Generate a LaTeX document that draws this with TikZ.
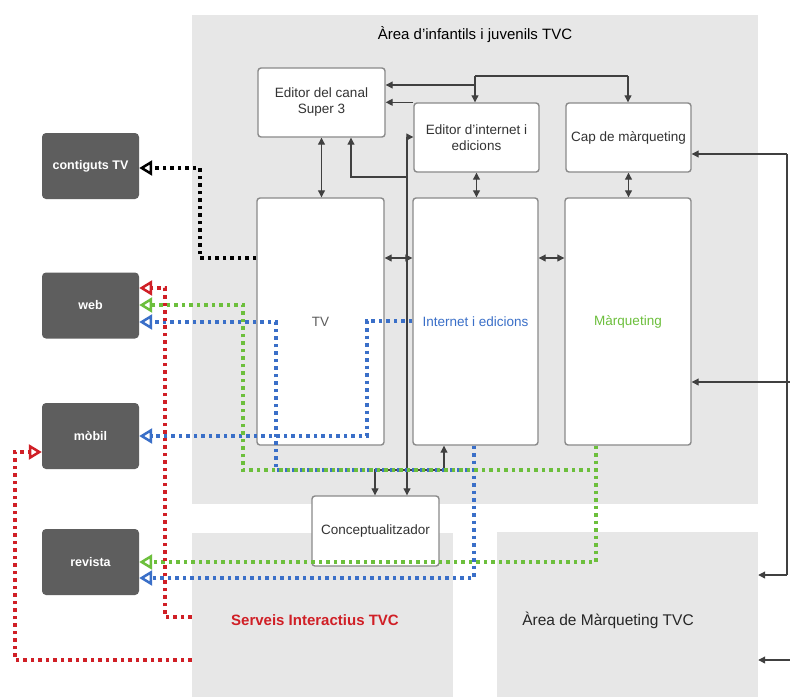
\documentclass[tikz,border=0pt]{standalone}
\usepackage{fontspec}
\setmainfont{Liberation Sans}
\usetikzlibrary{arrows.meta}
\definecolor{areagray}{HTML}{E7E7E7}
\definecolor{darkbox}{HTML}{5E5E5E}
\definecolor{boxline}{HTML}{8A8A8A}
\definecolor{linecol}{HTML}{404040}
\definecolor{txtgray}{HTML}{333333}
\definecolor{dred}{HTML}{D01F26}
\definecolor{dgreen}{HTML}{6CBF3C}
\definecolor{dblue}{HTML}{3A6FC8}
\tikzset{
  area/.style={fill=areagray, draw=none, inner sep=0pt},
  wbox/.style={fill=white, draw=boxline, line width=1.4pt, rounded corners=3pt, inner sep=2pt,
    align=center, text=txtgray, font=\fontsize{13.5}{16}\selectfont},
  dbox/.style={fill=darkbox, draw=none, rounded corners=4pt, inner sep=0pt,
    minimum width=97pt, minimum height=66pt, text=white, font=\fontsize{12.5}{15}\selectfont\bfseries},
  sarrow/.style={draw=linecol, line width=1.1pt, -{Triangle[length=7pt,width=7pt]}},
  darr/.style={draw=linecol, line width=1.1pt, {Triangle[length=7pt,width=7pt]}-{Triangle[length=7pt,width=7pt]}},
  sline/.style={draw=linecol, line width=1.1pt},
  dotline/.style={line width=3.5pt, dash pattern=on 3.5pt off 4pt,
    -{Triangle[length=13pt,width=15pt,fill=white,line width=2.5pt]}}
}
\begin{document}
\begin{tikzpicture}[x=1pt,y=-1pt]
\useasboundingbox (0,0) rectangle (790,697);
\fill[white] (0,0) rectangle (790,697);

% areas
\node[area, minimum width=566pt, minimum height=489pt] (areaI) at (475,259.5) {};
\node[area, minimum width=261pt, minimum height=164pt] (serv) at (322.5,615) {};
\node[area, minimum width=261pt, minimum height=165pt] (areaM) at (627.5,614.5) {};

\node[font=\fontsize{15}{18}\selectfont, text=black] (titleI) at (475,35) {Àrea d'infantils i juvenils TVC};
\node[font=\fontsize{15}{18}\selectfont\bfseries, text=dred] (titleS) at (315,620) {Serveis Interactius TVC};
\node[font=\fontsize{15.5}{18}\selectfont, text=black!85] (titleM) at (608,620) {Àrea de Màrqueting TVC};

% white boxes
\node[wbox, minimum width=127pt, minimum height=69pt] (super3) at (321.5,102.5) {Editor del canal\\Super 3};
\node[wbox, minimum width=125pt, minimum height=69pt] (edint) at (476.5,137.5) {Editor d'internet i\\edicions};
\node[wbox, minimum width=125pt, minimum height=69pt] (cap) at (628.5,137.5) {Cap de màrqueting};
\node[wbox, minimum width=127pt, minimum height=247pt] (tv) at (320.5,321.5) {};
\node[wbox, minimum width=125pt, minimum height=247pt] (internet) at (475.5,321.5) {};
\node[wbox, minimum width=126pt, minimum height=247pt] (mkt) at (628,321.5) {};
\node[wbox, minimum width=127pt, minimum height=70pt] (concept) at (375.5,531) {Conceptualitzador};

\node[font=\fontsize{13.5}{16}\selectfont, text=txtgray!80] (tvlab) at (tv.center) {TV};
\node[font=\fontsize{13.5}{16}\selectfont, text=dblue] (intlab) at (internet.center) {Internet i edicions};
\node[font=\fontsize{13.5}{16}\selectfont, text=dgreen] (mktlab) at (mkt.center) {Màrqueting};

% dark boxes
\node[dbox] (contig) at (90.5,166) {contiguts TV};
\node[dbox] (web) at (90.5,305.5) {web};
\node[dbox] (mobil) at (90.5,436) {mòbil};
\node[dbox] (revista) at (90.5,562) {revista};

% solid connectors
\draw[darr] (super3.south) -- (super3.south |- tv.north);
\draw[darr] (tv.east |- 0,258) -- (internet.west |- 0,258);
\draw[darr] (internet.east |- 0,258) -- (mkt.west |- 0,258);
\draw[darr] (edint.south) -- (edint.south |- internet.north);
\draw[darr] (cap.south) -- (cap.south |- mkt.north);

\coordinate (tj) at (475,76);
\coordinate (tk) at (628,76);
\coordinate (tm) at (475,85);
\draw[sline] (tj) -- (tk);
\draw[sarrow] (tk) -- (tk |- cap.north);
\draw[sarrow] (tj) -- (tj |- edint.north);
\draw[sarrow] (tm) -- (tm -| super3.east);
\draw[sarrow] (edint.north west) -- (edint.north west -| super3.east);

\coordinate (s1) at (351,177);
\coordinate (s2) at (407,177);
\coordinate (vtop) at (407,137);
\draw[sarrow] (s2) -- (s1) -- (s1 |- super3.south);
\draw[sarrow] (vtop) -- (vtop -| edint.west);
\draw[sarrow] (vtop) -- (vtop |- concept.north);

\coordinate (c1) at (444,470);
\coordinate (c2) at (375,470);
\draw[darr] (c1 |- internet.south) -- (c1) -- (c2) -- (c2 |- concept.north);

\coordinate (rtop) at (787,154);
\coordinate (rbot) at (787,575);
\coordinate (redge1) at (790,382);
\coordinate (redge2) at (790,660);
\draw[sarrow] (rtop) -- (rtop -| cap.east);
\draw[sline] (rtop) -- (rbot);
\draw[sarrow] (rbot) -- (rbot -| areaM.east);
\draw[sarrow] (redge1) -- (redge1 -| mkt.east);
\draw[sarrow] (redge2) -- (redge2 -| areaM.east);

% dotted connectors
\draw[dotline, black] (tv.west |- 0,258) -- (200,258) -- (200,168) -- (contig.east |- 0,168);

\coordinate (bi) at (internet.south -| 474,0);
\draw[dotline, dblue] (bi) -- (474,470) -- (276,470) -- (276,322) -- (web.east |- 0,322);
\draw[dotline, dblue] (internet.west |- 0,321) -- (367,321) -- (367,436) -- (mobil.east |- 0,436);
\draw[dotline, dblue] (bi) -- (474,578) -- (revista.east |- 0,578);

\coordinate (gm) at (mkt.south -| 596,0);
\draw[dotline, dgreen] (gm) -- (596,470) -- (243,470) -- (243,305) -- (web.east |- 0,305);
\draw[dotline, dgreen] (gm) -- (596,562) -- (revista.east |- 0,562);

\draw[dotline, dred] (serv.west |- 0,617) -- (165,617) -- (165,288) -- (web.east |- 0,288);
\draw[dotline, dred] (serv.west |- 0,660) -- (15,660) -- (15,452) -- (mobil.west |- 0,452);
\end{tikzpicture}
\end{document}
